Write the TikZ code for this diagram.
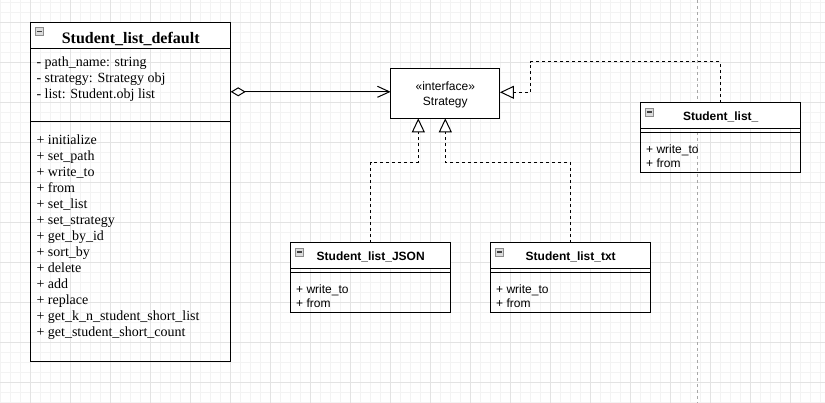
\documentclass[tikz,border=0pt]{standalone}
\usepackage{fontspec}
\setmainfont{Liberation Serif}
\newfontfamily\sansf{Liberation Sans}
\usetikzlibrary{arrows.meta,calc}
\definecolor{gridmin}{HTML}{F3F3F3}
\definecolor{gridmaj}{HTML}{E3E3E3}
\definecolor{pagebrk}{HTML}{A8A8A8}
\definecolor{iconfill}{HTML}{DCDCDC}
\definecolor{iconline}{HTML}{8C8C8C}
\begin{document}
\begin{tikzpicture}[x=1pt,y=-1pt,line width=1pt,
  umlbox/.style={draw=black, line width=1pt, inner sep=0pt, outer sep=0pt, anchor=north west},
  umlhead/.style={umlbox, fill=white},
  minicon/.style={draw=iconline, fill=iconfill, line width=0.7pt, inner sep=0pt, outer sep=0pt,
    minimum size=8pt, anchor=north west,
    path picture={\draw[black!75, line width=1.1pt]
      ([xshift=1.6pt]path picture bounding box.west) -- ([xshift=-1.6pt]path picture bounding box.east);}},
  sertitle/.style={font=\fontsize{16}{18}\selectfont\bfseries, inner sep=0pt, anchor=base},
  sermem/.style={font=\fontsize{14}{16}\selectfont, inner sep=0pt, anchor=base west},
  sanstitle/.style={font=\sansf\fontsize{12}{14}\selectfont\bfseries, inner sep=0pt, anchor=base},
  sansmem/.style={font=\sansf\fontsize{12}{14}\selectfont, inner sep=0pt, anchor=base west},
  sanstext/.style={font=\sansf\fontsize{12}{14}\selectfont, inner sep=0pt, anchor=base},
  agg/.style={line width=1pt, {Diamond[length=15pt,width=9pt,fill=white]}-{Straight Barb[length=12pt,width=11pt]}},
  real/.style={line width=1pt, dash pattern=on 3pt off 3pt, -{Triangle[length=14pt,width=13pt,fill=white]}},
  pagebreak/.style={draw=pagebrk, line width=0.8pt, dash pattern=on 3pt off 3pt}
]
% background and grid
\fill[white] (0,0) rectangle (825,403);
\useasboundingbox (0,0) rectangle (825,403);
\foreach \gx in {0,...,82} \draw[gridmin] ({0.7+10*\gx},0) -- ({0.7+10*\gx},403);
\foreach \gy in {0,...,40} \draw[gridmin] (0,{2.7+10*\gy}) -- (825,{2.7+10*\gy});
\foreach \gx in {0,...,19} \draw[gridmaj] ({30.7+40*\gx},0) -- ({30.7+40*\gx},403);
\foreach \gy in {0,...,9} \draw[gridmaj] (0,{22.7+40*\gy}) -- (825,{22.7+40*\gy});
\coordinate (pbtop) at (697.3,0);
\coordinate (pbbot) at (697.3,403);
\draw[pagebreak] (pbtop) -- (pbbot);

% Student_list_default
\node[umlbox, minimum width=200pt, minimum height=339pt] (def) at (30.7,22.7) {};
\node[umlhead, minimum width=200pt, minimum height=26pt] (defh) at (30.7,22.7) {};
\node[minicon] (defi) at ([xshift=4.6pt,yshift=-5pt]def.north west) {};
\node[sertitle] (deft) at (130.7,44) {Student\_list\_default};
\coordinate (defsep) at (30.7,122);
\draw (defsep) -- (defsep -| def.east);
\node[sermem] (defa1) at (36,67) {- path\_name: string};
\node[sermem] (defa2) at (36,83) {- strategy: Strategy obj};
\node[sermem] (defa3) at (36,99) {- list: Student.obj list};
\foreach \t [count=\i] in {initialize,set\_path,write\_to,from,set\_list,set\_strategy,get\_by\_id,sort\_by,delete,add,replace,get\_k\_n\_student\_short\_list,get\_student\_short\_count}
  \node[sermem] (defm\i) at (36,{145+16*(\i-1)}) {+ \t};

% Strategy interface
\node[draw=black, fill=white, line width=1pt, inner sep=0pt, outer sep=0pt,
  minimum width=109.3pt, minimum height=50pt] (strat) at (445.3,93.3) {};
\node[sanstext] (strati) at (445.3,91) {«interface»};
\node[sanstext] (stratn) at (445.3,105.5) {Strategy};

% Student_list_
\node[umlbox, minimum width=160pt, minimum height=69.6pt] (sl) at (640.7,102.7) {};
\node[umlhead, minimum width=160pt, minimum height=25.6pt] (slh) at (640.7,102.7) {};
\node[minicon] (sli) at ([xshift=5pt,yshift=-5.3pt]sl.north west) {};
\node[sanstitle] (slt) at (720.7,120.3) {Student\_list\_};
\coordinate (slsep) at (640.7,132.3);
\draw (slsep) -- (slsep -| sl.east);
\node[sansmem] (slm1) at (645.7,154) {+ write\_to};
\node[sansmem] (slm2) at (645.7,168) {+ from};

% Student_list_JSON
\node[umlbox, minimum width=160pt, minimum height=69.6pt] (js) at (290.7,242.7) {};
\node[umlhead, minimum width=160pt, minimum height=25.6pt] (jsh) at (290.7,242.7) {};
\node[minicon] (jsi) at ([xshift=5pt,yshift=-5.3pt]js.north west) {};
\node[sanstitle] (jst) at (370.7,260.1) {Student\_list\_JSON};
\coordinate (jssep) at (290.7,272.3);
\draw (jssep) -- (jssep -| js.east);
\node[sansmem] (jsm1) at (295.7,294) {+ write\_to};
\node[sansmem] (jsm2) at (295.7,308) {+ from};

% Student_list_txt
\node[umlbox, minimum width=160pt, minimum height=69.6pt] (tx) at (490.7,242.7) {};
\node[umlhead, minimum width=160pt, minimum height=25.6pt] (txh) at (490.7,242.7) {};
\node[minicon] (txi) at ([xshift=5pt,yshift=-5.3pt]tx.north west) {};
\node[sanstitle] (txt) at (570.7,260.1) {Student\_list\_txt};
\coordinate (txsep) at (490.7,272.3);
\draw (txsep) -- (txsep -| tx.east);
\node[sansmem] (txm1) at (495.7,294) {+ write\_to};
\node[sansmem] (txm2) at (495.7,308) {+ from};

% connectors
\coordinate (aggend) at ([yshift=1.5pt]strat.west);
\draw[agg] (def.east |- aggend) -- (aggend);
\coordinate (jsin) at ([xshift=-27pt]strat.south);
\coordinate (jsbend) at ([yshift=-44pt]jsin);
\draw[real] (jsh.north) |- (jsbend) -- (jsin);
\coordinate (txbend) at ([yshift=-44pt]strat.south);
\draw[real] (txh.north) |- (txbend) -- (strat.south);
\coordinate (slbend) at ([xshift=30.7pt,yshift=31.3pt]strat.east);
\coordinate (slin) at ([yshift=1pt]strat.east);
\draw[real] (slh.north) |- (slbend) |- (slin);
\end{tikzpicture}
\end{document}
